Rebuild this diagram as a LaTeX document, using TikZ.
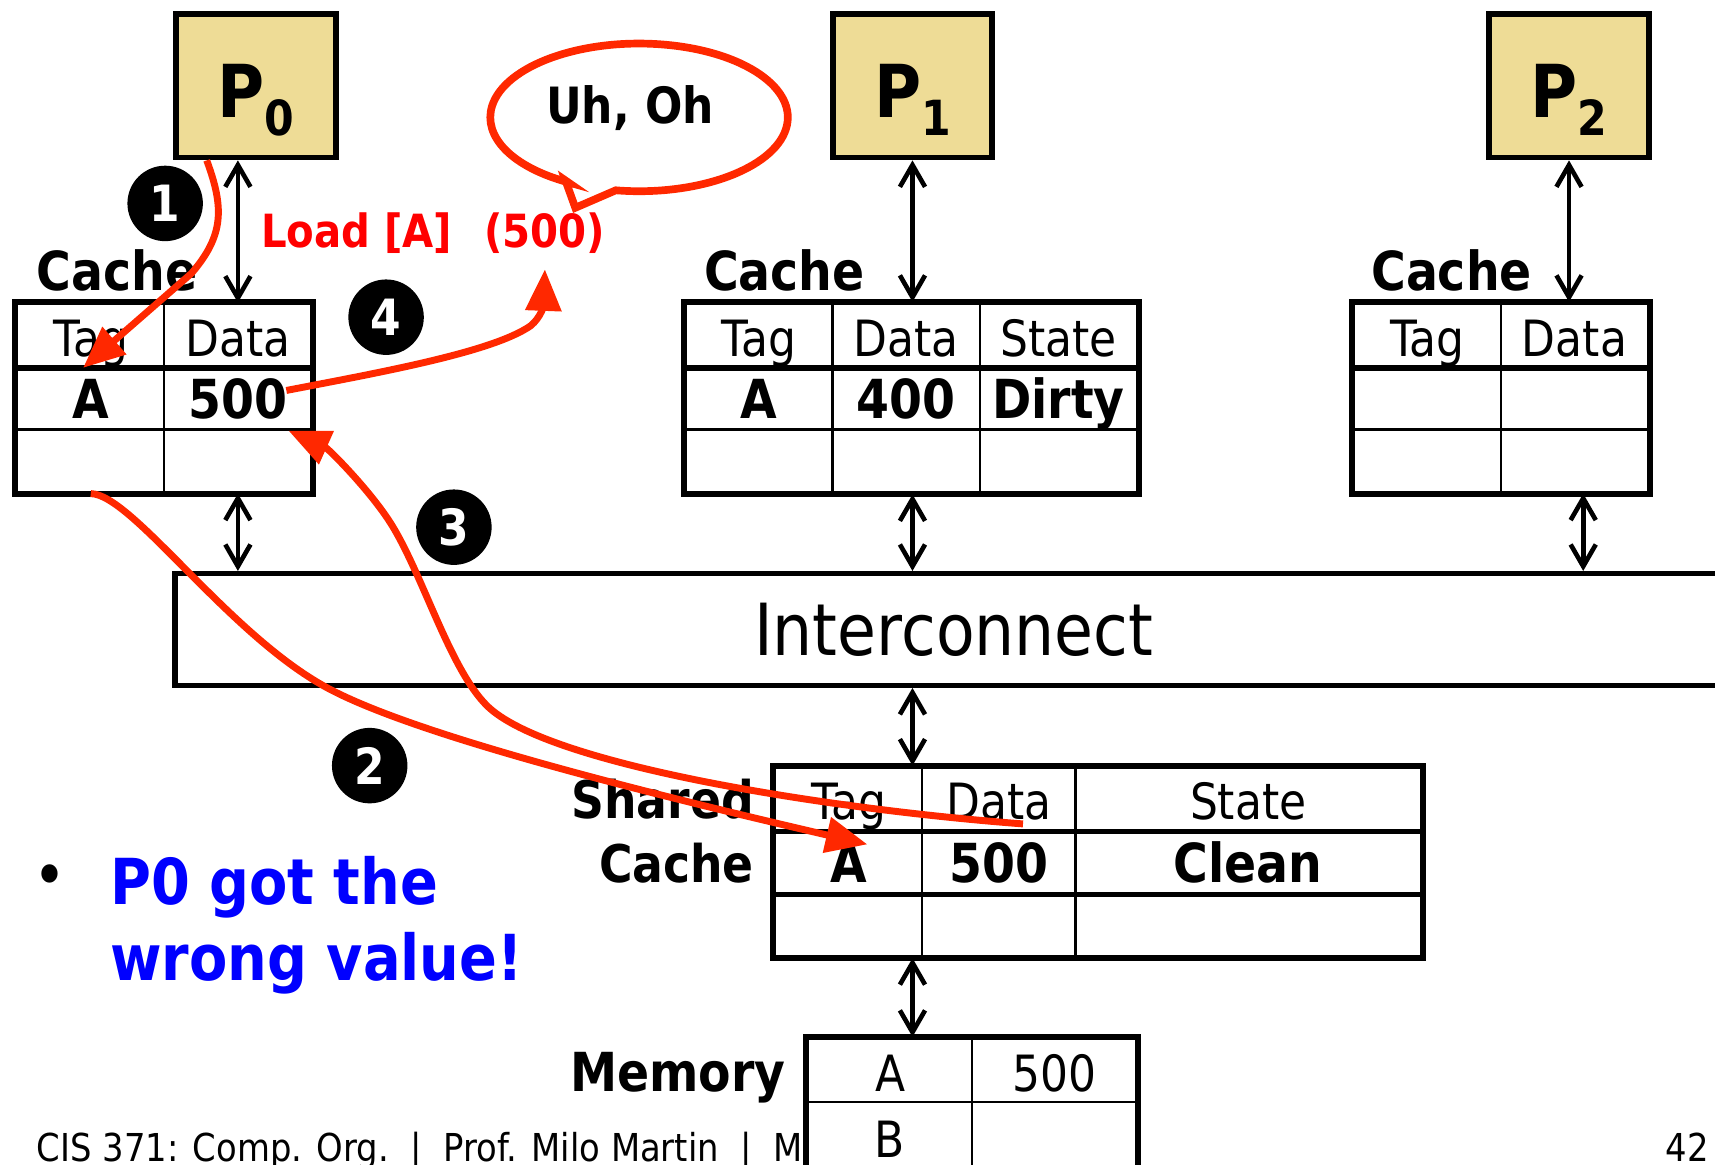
\documentclass[tikz,border=0pt]{standalone}
\usepackage{fontspec}
\setmainfont{DejaVu Sans}[FakeStretch=0.88]
\usepackage{xcolor}
\usetikzlibrary{arrows.meta, positioning, matrix}

\definecolor{procfill}{RGB}{238,220,150}
\definecolor{arrowred}{RGB}{255,40,0}
\definecolor{textred}{RGB}{255,0,0}
\definecolor{noteblue}{RGB}{0,0,255}

\begin{document}
\begin{tikzpicture}[
        x=0.1mm, y=-0.1mm,
        proc/.style={rectangle, draw, line width=1.5pt, fill=procfill, minimum width=14.6mm, minimum height=13.1mm, inner sep=0pt, text height=5.7mm, text depth=0pt, font=\bfseries\fontsize{19}{19}\selectfont},
        cell/.style={rectangle, draw, line width=0.6pt, fill=white, minimum width=13.45mm, minimum height=5.75mm, inner sep=0pt, text height=4.3mm, text depth=0.5mm, font=\fontsize{13}{13}\selectfont},
        val/.style={font=\bfseries\fontsize{14}{14}\selectfont},
        cachetab/.style={matrix of nodes, nodes in empty cells, inner sep=0pt, column sep=-0.6pt, row sep=-0.6pt, nodes={cell}},
        border/.style={line width=1.5pt},
        lbl/.style={inner sep=0pt, text depth=0pt, font=\bfseries\fontsize{14}{14}\selectfont},
        bus/.style={rectangle, draw, line width=1.4pt, minimum width=142.4mm, minimum height=10.2mm, font=\fontsize{18.7}{18.7}\selectfont},
        link/.style={{Straight Barb[length=2mm,width=2.3mm]}-{Straight Barb[length=2mm,width=2.3mm]}, line width=1.2pt},
        redlbl/.style={inner sep=0pt, text=textred, font=\bfseries\fontsize{11.9}{11.9}\selectfont},
        bubble/.style={draw=arrowred, line width=2pt, fill=white},
        say/.style={inner sep=0pt, font=\bfseries\fontsize{13}{13}\selectfont},
        num/.style={circle, fill=black, minimum size=6.9mm, inner sep=0pt, text=white, font=\bfseries\fontsize{13}{13}\selectfont},
        note/.style={inner sep=0pt, align=left, text=noteblue, font=\bfseries\fontsize{16.5}{19.9}\selectfont},
        foot/.style={inner sep=0pt, font=\fontsize{10}{10}\selectfont},
        flow/.style={-{Triangle[length=3.8mm,width=3.2mm]}, draw=arrowred, line width=1.8pt}
    ]
        \useasboundingbox (0,0) rectangle (1568,1065);

        % processors
        \node[proc] (p0) at (234,78.5) {P\raisebox{-1.7mm}{\fontsize{12.6}{12.6}\selectfont 0}};
        \node[proc, right=44.9mm of p0] (p1) {P\raisebox{-1.7mm}{\fontsize{12.6}{12.6}\selectfont 1}};
        \node[proc, right=44.9mm of p1] (p2) {P\raisebox{-1.7mm}{\fontsize{12.6}{12.6}\selectfont 2}};

        % private caches
        \matrix (c0) [cachetab, anchor=north west] at (14,276) {
            Tag & Data \\
            |[val]| A & |[val]| 500 \\
            & \\
        };
        \draw[border] (c0.north west) rectangle (c0.south east);
        \draw[border] (c0-1-1.south west) -- (c0-1-2.south east);

        \matrix (c1) [cachetab, anchor=north west, column 3/.style={nodes={minimum width=14.4mm}}] at (625,276) {
            Tag & Data & State \\
            |[val]| A & |[val]| 400 & |[val]| Dirty \\
            & & \\
        };
        \draw[border] (c1.north west) rectangle (c1.south east);
        \draw[border] (c1-1-1.south west) -- (c1-1-3.south east);

        \matrix (c2) [cachetab, anchor=north west] at (1236,276) {
            Tag & Data \\
            & \\
            & \\
        };
        \draw[border] (c2.north west) rectangle (c2.south east);
        \draw[border] (c2-1-1.south west) -- (c2-1-2.south east);

        \node[lbl, above right=1mm and 1.9mm of c0.north west] (l0) {Cache};
        \node[lbl, above right=1mm and 1.8mm of c1.north west] (l1) {Cache};
        \node[lbl, above right=1mm and 1.7mm of c2.north west] (l2) {Cache};

        % interconnect
        \node[bus] (ic) at (872,575.5) {\raisebox{-0.4mm}{Interconnect}};

        % shared cache
        \matrix (sc) [cachetab, anchor=north west, column 2/.style={nodes={minimum width=14mm}}, column 3/.style={nodes={minimum width=31.6mm}}] at (707,700) {
            Tag & Data & State \\
            |[val]| A & |[val]| 500 & |[val]| Clean \\
            & & \\
        };
        \draw[border] (sc.north west) rectangle (sc.south east);
        \draw[border] (sc-1-1.south west) -- (sc-1-3.south east);
        \draw[border] (sc-2-1.south west) -- (sc-2-3.south east);
        \node[lbl, align=right, anchor=north east, font=\bfseries\fontsize{13.5}{16.5}\selectfont] (sl) at ([xshift=-1.7mm, yshift=-1.2mm]sc.north west) {Shared\\Cache};

        % footer
        \node[foot, anchor=base west] (ft) at (33,1062) {CIS 371: Comp. Org.~~|~~Prof. Milo Martin~~|~~Mu};
        \node[foot, anchor=base east] (pg) at (1563,1062) {42};

        % memory
        \matrix (mem) [cachetab, anchor=north west, column 1/.style={nodes={minimum width=15mm}}, column 2/.style={nodes={minimum width=15mm}}, row 2/.style={nodes={minimum height=6.4mm}}] at (737,948) {
            A & 500 \\
            B & \\
        };
        \draw[border] (mem.north west) rectangle (mem.south east);
        \node[lbl, anchor=base east] (ml) at ([shift={(-1.8mm,-5mm)}]mem.north west) {Memory};

        % links
        \draw[link] (p0.south -| c0-1-2.north) -- (c0-1-2.north);
        \draw[link] (c0-3-2.south) -- (c0-3-2.south |- ic.north);
        \draw[link] (p1.south) -- (p1.south |- c1.north);
        \draw[link] (p1.south |- c1.south) -- (p1.south |- ic.north);
        \draw[link] (p2.south) -- (p2.south |- c2.north);
        \draw[link] ([xshift=0.8mm]c2-3-2.south) -- ([xshift=0.8mm]c2-3-2.south |- ic.north);
        \draw[link] (p1.south |- ic.south) -- (p1.south |- sc.north);
        \draw[link] (p1.south |- sc.south) -- (p1.south |- mem.north);

        % load and speech bubble
        \node[redlbl, anchor=base west] (ld) at (238,226) {Load [A]};
        \node[redlbl, base right=2.8mm of ld] (rv) {(500)};
        \coordinate (tl) at (517,165);
        \coordinate (tip) at (526,190);
        \coordinate (tr) at (563,174);
        \draw[bubble] (tl) -- (tip) -- (tr) arc[start angle=99, end angle=-241.5, x radius=136, y radius=67.5] -- cycle;
        \node[say] (uh) at (576,99) {Uh, Oh};

        % step numbers
        \node[num] (n1) at (151,186) {1};
        \node[num] (n4) at (353,290) {4};
        \node[num] (n3) at (415,482) {3};
        \node[num] (n2) at (338,700) {2};

        % note
        \node[inner sep=0pt, font=\fontsize{16.5}{16.5}\selectfont] (bul) at (46,806) {•};
        \node[note, anchor=north west] (nt) at (100,782) {P0 got the\\wrong value!};

        % red flows
        \draw[flow] ([xshift=-4.5mm]p0.south) .. controls (205,190) and (205,215) .. (175,250) -- ([xshift=-0.7mm]c0-1-1.south);
        \draw[flow] (c0-3-1.south) .. controls (120,452) and (205,575) .. (294,626) .. controls (365,667) and (560,718) .. ([shift={(1.7mm,1.6mm)}]sc-2-1.center);
        \draw[flow] ([shift={(-4.9mm,0.7mm)}]sc-1-2.south east) .. controls (760,740) and (500,700) .. (445,645) .. controls (410,610) and (385,520) .. (355,475) .. controls (335,445) and (300,410) .. ([xshift=-2.2mm]c0-2-2.south east);
        \draw[flow] ([shift={(-2.4mm,0.7mm)}]c0-2-2.east) .. controls (350,340) and (450,322) .. (485,298) .. controls (495,290) and (497,278) .. ([yshift=-1.4mm]rv.south);
    \end{tikzpicture}
\end{document}
